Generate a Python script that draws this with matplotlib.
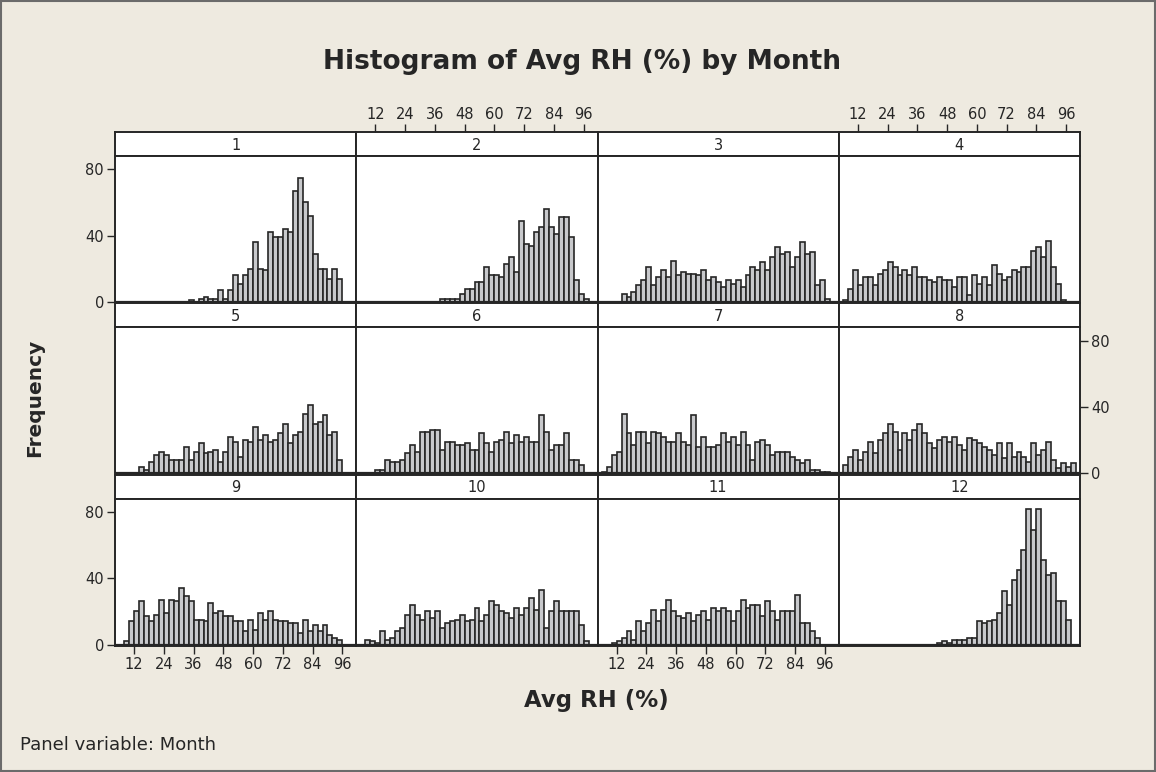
import numpy as np
import matplotlib
matplotlib.use('Agg')
import matplotlib.pyplot as plt
from matplotlib.patches import Rectangle

# bins of width 2 from 6 to 100
bin_edges = np.arange(6, 101, 2)
bin_centers = (bin_edges[:-1] + bin_edges[1:]) / 2

# counts per bin
m1 = [0, 0, 0, 0, 0, 0, 0, 0, 0, 0, 0, 0, 0, 0, 1, 0, 2, 3, 2, 2, 7, 2, 7, 16,
      11, 16, 20, 36, 20, 19, 42, 39, 39, 44, 42, 67, 75, 60, 52, 29, 20, 20, 14, 20, 14, 0, 0]
m2 = [0, 0, 0, 0, 0, 0, 0, 0, 0, 0, 0, 0, 0, 0, 0, 0, 2, 2, 2, 2, 5, 8, 8, 12,
      12, 21, 16, 16, 15, 23, 27, 18, 49, 35, 34, 42, 45, 56, 45, 41, 51, 51, 39, 13, 5, 2, 0]
m3 = [0, 0, 0, 0, 5, 3, 6, 10, 13, 21, 10, 15, 19, 15, 25, 16, 18, 17, 17, 16, 19, 13, 15, 12,
      9, 13, 11, 13, 9, 16, 21, 19, 24, 19, 27, 33, 29, 30, 21, 27, 36, 29, 30, 10, 13, 2, 0]
m4 = [1, 8, 19, 10, 15, 15, 10, 17, 19, 24, 21, 16, 19, 16, 21, 15, 15, 13, 12, 15, 13, 13, 9, 15,
      15, 4, 16, 11, 15, 10, 22, 17, 13, 15, 19, 18, 21, 21, 31, 33, 27, 37, 21, 11, 1, 0, 0]
m5 = [0, 0, 0, 0, 4, 2, 7, 11, 13, 11, 8, 8, 8, 16, 8, 13, 18, 12, 13, 14, 7, 13, 22, 19,
      10, 20, 19, 28, 20, 23, 19, 20, 24, 30, 18, 23, 25, 36, 41, 30, 31, 35, 23, 25, 8, 0, 0]
m6 = [0, 0, 0, 2, 2, 8, 7, 7, 8, 12, 17, 13, 25, 25, 26, 26, 14, 19, 19, 17, 17, 18, 14, 14,
      24, 18, 13, 19, 20, 25, 18, 23, 19, 22, 19, 19, 35, 25, 14, 17, 17, 24, 8, 8, 5, 0, 0]
m7 = [1, 4, 11, 13, 36, 24, 17, 25, 25, 18, 25, 24, 22, 19, 19, 24, 19, 17, 35, 16, 22, 16, 16, 17,
      24, 19, 22, 17, 25, 17, 8, 19, 20, 17, 11, 13, 13, 13, 10, 8, 6, 8, 2, 2, 1, 1, 0]
m8 = [5, 10, 14, 8, 13, 19, 12, 20, 24, 30, 25, 14, 24, 20, 26, 30, 24, 18, 15, 20, 22, 19, 22, 17,
      14, 21, 20, 18, 16, 14, 11, 18, 9, 18, 10, 13, 10, 7, 18, 11, 14, 19, 8, 3, 6, 4, 6]
m9 = [0, 2, 14, 20, 26, 17, 14, 18, 27, 19, 27, 26, 34, 29, 26, 15, 15, 14, 25, 19, 20, 17, 17, 14,
      14, 8, 15, 9, 19, 15, 20, 15, 14, 14, 13, 13, 7, 15, 8, 12, 8, 12, 6, 4, 3, 0, 0]
m10 = [0, 3, 2, 1, 8, 3, 4, 8, 10, 18, 24, 18, 15, 20, 16, 20, 10, 13, 14, 15, 18, 14, 15, 22,
       14, 18, 26, 24, 20, 19, 16, 22, 18, 22, 28, 21, 33, 10, 20, 26, 20, 20, 20, 20, 12, 2, 0]
m11 = [0, 0, 1, 2, 4, 8, 3, 14, 8, 13, 21, 14, 21, 27, 20, 17, 16, 19, 14, 18, 20, 15, 22, 20,
       22, 20, 14, 20, 27, 22, 24, 24, 17, 26, 20, 15, 20, 20, 20, 30, 13, 13, 8, 4, 0, 0, 0]
m12 = [0, 0, 0, 0, 0, 0, 0, 0, 0, 0, 0, 0, 0, 0, 0, 0, 0, 0, 0, 1, 2, 1, 3, 3,
       3, 4, 4, 14, 13, 14, 15, 19, 32, 24, 39, 45, 57, 82, 69, 82, 51, 42, 43, 26, 26, 15, 0]

months = [m1, m2, m3, m4, m5, m6, m7, m8, m9, m10, m11, m12]
month_labels = ['1', '2', '3', '4', '5', '6', '7', '8', '9', '10', '11', '12']
x_ticks = [12, 24, 36, 48, 60, 72, 84, 96]
y_ticks = [0, 40, 80]

W, H = 1156, 772
bg = '#EEEAE0'
dark = '#262626'
fig = plt.figure(figsize=(W / 100, H / 100), dpi=100, facecolor=bg)
plt.rcParams['font.family'] = ['DejaVu Sans']


def px_axes(x0, top, w, h):
    return fig.add_axes([x0 / W, 1 - (top + h) / H, w / W, h / H])


col_w = 241.25
col_left = [115 + i * col_w for i in range(4)]
row_h = 171.3
row_top = [132 + i * row_h for i in range(3)]
strip_h = 24
xlim = (4.3, 101.6)
ylim = (-0.8, 88)

for i, counts in enumerate(months):
    r, c = divmod(i, 4)
    top = row_top[r]

    sa = px_axes(col_left[c], top, col_w, strip_h)
    sa.set_facecolor('white')
    sa.set_xlim(xlim)
    sa.set_xticks([])
    sa.set_yticks([])
    sa.text(0.5, 0.45, month_labels[i], transform=sa.transAxes,
            ha='center', va='center', fontsize=10.5, color=dark)
    if r == 0 and c in (1, 3):
        sa.xaxis.tick_top()
        sa.set_xticks(x_ticks)
        sa.tick_params(axis='x', top=True, labeltop=True, direction='out',
                       length=6, width=1, colors=dark, labelsize=10.5, pad=1)

    ax = px_axes(col_left[c], top + strip_h, col_w, row_h - strip_h)
    ax.set_facecolor('white')
    ax.bar(bin_centers, counts, width=2, color='#C8C9CC', edgecolor=dark, linewidth=1.2)
    ax.axhline(0, color=dark, linewidth=1.6)
    ax.set_xlim(xlim)
    ax.set_ylim(ylim)
    ax.set_xticks([])
    ax.set_yticks([])

    if c == 0 and r in (0, 2):
        ax.set_yticks(y_ticks)
        ax.tick_params(axis='y', left=True, labelleft=True, direction='out',
                       length=6, width=1, colors=dark, labelsize=10.5, pad=2)
    if c == 3 and r == 1:
        ax.yaxis.tick_right()
        ax.set_yticks(y_ticks)
        ax.tick_params(axis='y', right=True, labelright=True, direction='out',
                       length=6, width=1, colors=dark, labelsize=10.5, pad=2)
    if r == 2 and c in (0, 2):
        ax.set_xticks(x_ticks)
        ax.tick_params(axis='x', bottom=True, labelbottom=True, direction='out',
                       length=6, width=1, colors=dark, labelsize=10.5, pad=2)

    for a in (sa, ax):
        for sp in a.spines.values():
            sp.set_color(dark)
            sp.set_linewidth(1.4)

fig.text(582 / W, 1 - 62 / H, 'Histogram of Avg RH (%) by Month', ha='center', va='center',
         fontsize=19, fontweight='bold', color=dark)
fig.text(35 / W, 1 - 398 / H, 'Frequency', ha='center', va='center', rotation=90,
         fontsize=14.5, fontweight='bold', color=dark)
fig.text(596 / W, 1 - 700 / H, 'Avg RH (%)', ha='center', va='center',
         fontsize=16.5, fontweight='bold', color=dark)
fig.text(20 / W, 1 - 745 / H, 'Panel variable: Month', ha='left', va='center',
         fontsize=13, color=dark)

fig.patches.append(Rectangle((0.001, 0.001), 0.998, 0.998, transform=fig.transFigure,
                             fill=False, edgecolor='#6b6b6b', linewidth=1.5))

fig.savefig('out.png', dpi=100, facecolor=bg)
